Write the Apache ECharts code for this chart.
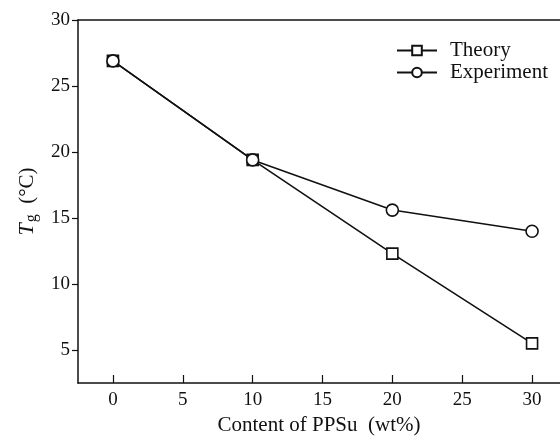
<!DOCTYPE html>
<html>
<head>
<meta charset="utf-8">
<script src="https://cdn.jsdelivr.net/npm/echarts@6/dist/echarts.min.js"></script>
<style>
  html, body { margin: 0; padding: 0; background: #fff; }
  #chart { width: 560px; height: 440px; }
</style>
</head>
<body>
<div id="chart"></div>
<script>
// PPSu content (wt%)
const contents = [0, 10, 20, 30]
const theory = [26.9, 19.4, 12.3, 5.5]
const experiment = [26.9, 19.4, 15.6, 14.0]
const xTicks = [0, 5, 10, 15, 20, 25, 30]
const yTicks = [5, 10, 15, 20, 25, 30]

const font = '"Liberation Serif", "Times New Roman", serif'
const pairs = (ys) => contents.map((x, i) => [x, ys[i]])

const chart = echarts.init(document.getElementById('chart'))
chart.setOption({
  animation: false,
  textStyle: { fontFamily: font, color: '#111' },
  grid: { left: 78, top: 20, right: 0, bottom: 57, containLabel: false, outerBoundsMode: 'none' },
  legend: {
    orient: 'vertical',
    left: 391,
    top: 35,
    itemWidth: 40,
    itemHeight: 12,
    itemGap: 1,
    textStyle: { fontFamily: font, fontSize: 21, color: '#111', padding: [0, 0, 0, 8] },
    data: ['Theory', 'Experiment']
  },
  xAxis: [
    {
      type: 'value',
      min: -2.5,
      max: 32,
      name: 'Content of PPSu  (wt%)',
      nameLocation: 'middle',
      nameGap: 32,
      nameTextStyle: { fontFamily: font, fontSize: 21, color: '#111' },
      axisLine: { onZero: false, lineStyle: { color: '#111', width: 1.5 } },
      axisTick: { inside: true, length: 8, customValues: xTicks, lineStyle: { color: '#111', width: 1.2 } },
      axisLabel: { customValues: xTicks, fontFamily: font, fontSize: 19, color: '#111', margin: 8 },
      splitLine: { show: false }
    },
    {
      type: 'value',
      position: 'top',
      min: -2.5,
      max: 32,
      axisLine: { show: true, onZero: false, lineStyle: { color: '#111', width: 1.5 } },
      axisTick: { show: false },
      axisLabel: { show: false },
      splitLine: { show: false }
    }
  ],
  yAxis: {
    type: 'value',
    min: 2.5,
    max: 30,
    name: '{i|T}{s|g}  (°C)',
    nameLocation: 'middle',
    nameRotate: 90,
    nameGap: 35,
    nameTextStyle: {
      fontFamily: font,
      fontSize: 21,
      color: '#111',
      rich: {
        i: { fontFamily: font, fontSize: 22, fontStyle: 'italic', color: '#111' },
        s: { fontFamily: font, fontSize: 16, color: '#111', padding: [10, 0, 0, 1] }
      }
    },
    axisLine: { show: true, onZero: false, lineStyle: { color: '#111', width: 1.5 } },
    axisTick: { show: true, length: 6, customValues: yTicks, lineStyle: { color: '#111', width: 1.2 } },
    axisLabel: { customValues: yTicks, fontFamily: font, fontSize: 19, color: '#111', margin: 8 },
    splitLine: { show: false }
  },
  series: [
    {
      name: 'Theory',
      type: 'line',
      data: pairs(theory),
      symbol: 'rect',
      symbolSize: 11,
      lineStyle: { color: '#111', width: 1.6 },
      itemStyle: { color: '#fff', borderColor: '#111', borderWidth: 1.6 }
    },
    {
      name: 'Experiment',
      type: 'line',
      data: pairs(experiment),
      symbol: 'circle',
      symbolSize: 12,
      lineStyle: { color: '#111', width: 1.6 },
      itemStyle: { color: '#fff', borderColor: '#111', borderWidth: 1.6 }
    }
  ]
})
</script>
</body>
</html>
